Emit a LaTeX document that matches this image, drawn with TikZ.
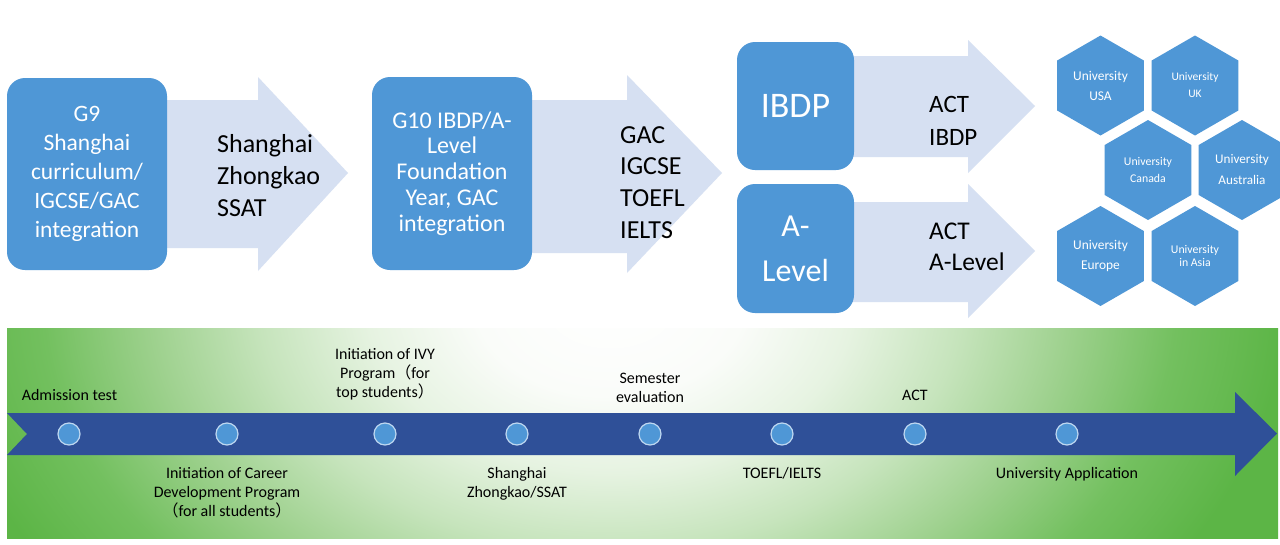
\documentclass[tikz,border=0pt]{standalone}
\usepackage{fontspec}
\setmainfont{Carlito}
\newfontfamily\cjk{Noto Sans CJK SC}
\usetikzlibrary{shapes.geometric}
\definecolor{boxblue}{RGB}{79,151,214}
\definecolor{arrowlight}{RGB}{214,224,242}
\definecolor{banddark}{RGB}{47,80,152}
\definecolor{ringc}{RGB}{190,215,240}
\definecolor{pgA}{RGB}{250,252,249}
\definecolor{pgB}{RGB}{230,243,225}
\definecolor{pgC}{RGB}{198,228,188}
\definecolor{pgD}{RGB}{158,209,142}
\definecolor{pgE}{RGB}{115,192,95}
\definecolor{pgF}{RGB}{92,181,70}
\pgfdeclareradialshading{panelrad}{\pgfpoint{0bp}{0bp}}{color(0bp)=(white); color(5bp)=(pgA); color(9bp)=(pgB); color(13bp)=(pgC); color(17bp)=(pgD); color(21bp)=(pgE); color(25bp)=(pgF); color(50bp)=(pgF)}
\newcommand{\ctrlines}[1]{\vtop{\halign{\hfil##\hfil\cr#1\crcr}}}
\newcommand{\leftlines}[1]{\vtop{\halign{##\hfil\cr#1\crcr}}}
\tikzset{
  bluebox/.style={fill=boxblue, draw=none, rounded corners=18pt, text=white, inner sep=0pt},
  bigarrow/.style={fill=arrowlight, draw=none},
  arrtext/.style={inner sep=0pt, text=black},
  hexnode/.style={regular polygon, regular polygon sides=6, shape border rotate=30, minimum size=100pt, fill=boxblue, draw=none, text=white, inner sep=0pt},
  band/.style={fill=banddark, draw=none},
  dot/.style={circle, fill=boxblue, draw=ringc, line width=1.2pt, minimum size=22pt, inner sep=0pt},
  tl/.style={inner sep=0pt, text=black, font=\fontsize{16}{19}\selectfont}
}
\begin{document}
\begin{tikzpicture}[x=1pt,y=-1pt]
\useasboundingbox (0,0) rectangle (1280,544);
\fill[white] (0,0) rectangle (1280,544);

% ---- top: block arrows ----
\path[bigarrow] (150,100) -- (258,100) -- (258,77) -- (348,173) -- (258,271) -- (258,248) -- (150,248) -- cycle;
\path[bigarrow] (515,100) -- (627,100) -- (627,75) -- (722,173) -- (627,273) -- (627,253) -- (515,253) -- cycle;
\path[bigarrow] (840,56) -- (968,56) -- (968,40) -- (1035,106) -- (968,173) -- (968,157) -- (840,157) -- cycle;
\path[bigarrow] (840,202) -- (968,202) -- (968,184) -- (1035,251) -- (968,318) -- (968,302) -- (840,302) -- cycle;

% ---- top: boxes ----
\node[bluebox, minimum width=160pt, minimum height=192pt, font=\fontsize{23.5}{29}\selectfont] (g9) at (87,174)
  {\ctrlines{G9\cr Shanghai\cr curriculum/\cr IGCSE/GAC\cr integration}};
\node[bluebox, minimum width=160pt, minimum height=193pt, font=\fontsize{24}{25.8}\selectfont] (g10) at (452,173.5)
  {\ctrlines{G10 IBDP/A-\cr Level\cr Foundation\cr Year, GAC\cr integration}};
\node[bluebox, minimum width=117pt, minimum height=128pt, font=\fontsize{36}{40}\selectfont] (ibdp) at (795.5,106) {IBDP};
\node[bluebox, minimum width=117pt, minimum height=129pt, font=\fontsize{32}{45}\selectfont] (alevel) at (795.5,248.5)
  {\ctrlines{A-\cr Level}};

% ---- top: arrow texts ----
\node[arrtext, anchor=base west, font=\fontsize{26}{32}\selectfont] (txa) at (217,152) {\leftlines{Shanghai\cr Zhongkao\cr SSAT}};
\node[arrtext, anchor=base west, font=\fontsize{26}{31.7}\selectfont] (txb) at (620,143) {\leftlines{GAC\cr IGCSE\cr TOEFL\cr IELTS}};
\node[arrtext, anchor=base west, font=\fontsize{25}{33}\selectfont] (txc) at (929,112) {\leftlines{ACT\cr IBDP}};
\node[arrtext, anchor=base west, font=\fontsize{25.5}{31}\selectfont] (txd) at (929,239) {\leftlines{ACT\cr A-Level}};

% ---- top: universities ----
\node[hexnode, font=\fontsize{13.4}{20}\selectfont] (usa) at (1100.5,85.5) {\ctrlines{University\cr USA}};
\node[hexnode, font=\fontsize{11.5}{17}\selectfont] (uk) at (1195,85.5) {\ctrlines{University\cr UK}};
\node[hexnode, font=\fontsize{11.8}{17}\selectfont] (canada) at (1148,170) {\ctrlines{University\cr Canada}};
\node[hexnode, font=\fontsize{13.2}{21}\selectfont] (australia) at (1242,170) {\ctrlines{University\cr Australia}};
\node[hexnode, font=\fontsize{13.4}{20}\selectfont] (europe) at (1100.5,256) {\ctrlines{University\cr Europe}};
\node[hexnode, font=\fontsize{11.8}{12.5}\selectfont] (asia) at (1195,256) {\ctrlines{University\cr in Asia}};

% ---- bottom panel ----
\begin{scope}
  \clip (7,328) rectangle (1278,538);
  \shade[shading=panelrad] (-65,-180) rectangle (1285,780);
\end{scope}
\path[band] (7,413) -- (1235,413) -- (1235,392) -- (1277,433.5) -- (1235,476) -- (1235,455) -- (7,455) -- (27,434) -- cycle;

\node[dot] (d1) at (69,434) {};
\node[dot] (d2) at (227,434) {};
\node[dot] (d3) at (385,434) {};
\node[dot] (d4) at (517,434) {};
\node[dot] (d5) at (650,434) {};
\node[dot] (d6) at (782,434) {};
\node[dot] (d7) at (915,434) {};
\node[dot] (d8) at (1067,434) {};

\node[tl, anchor=base] (l1) at (69.5,400) {Admission test};
\node[tl, anchor=base] (l2) at (227,478) {\ctrlines{Initiation of Career\cr Development Program\cr {\cjk （}for all students{\cjk ）}}};
\node[tl, anchor=base] (l3) at (385,359) {\ctrlines{Initiation of IVY\cr Program{\cjk （}for\cr top students{\cjk ）}}};
\node[tl, anchor=base] (l4) at (517,478) {\ctrlines{Shanghai\cr Zhongkao/SSAT}};
\node[tl, anchor=base] (l5) at (650,383) {\ctrlines{Semester\cr evaluation}};
\node[tl, anchor=base] (l6) at (782,478) {TOEFL/IELTS};
\node[tl, anchor=base] (l7) at (915,400) {ACT};
\node[tl, anchor=base] (l8) at (1067,478) {University Application};
\end{tikzpicture}
\end{document}
